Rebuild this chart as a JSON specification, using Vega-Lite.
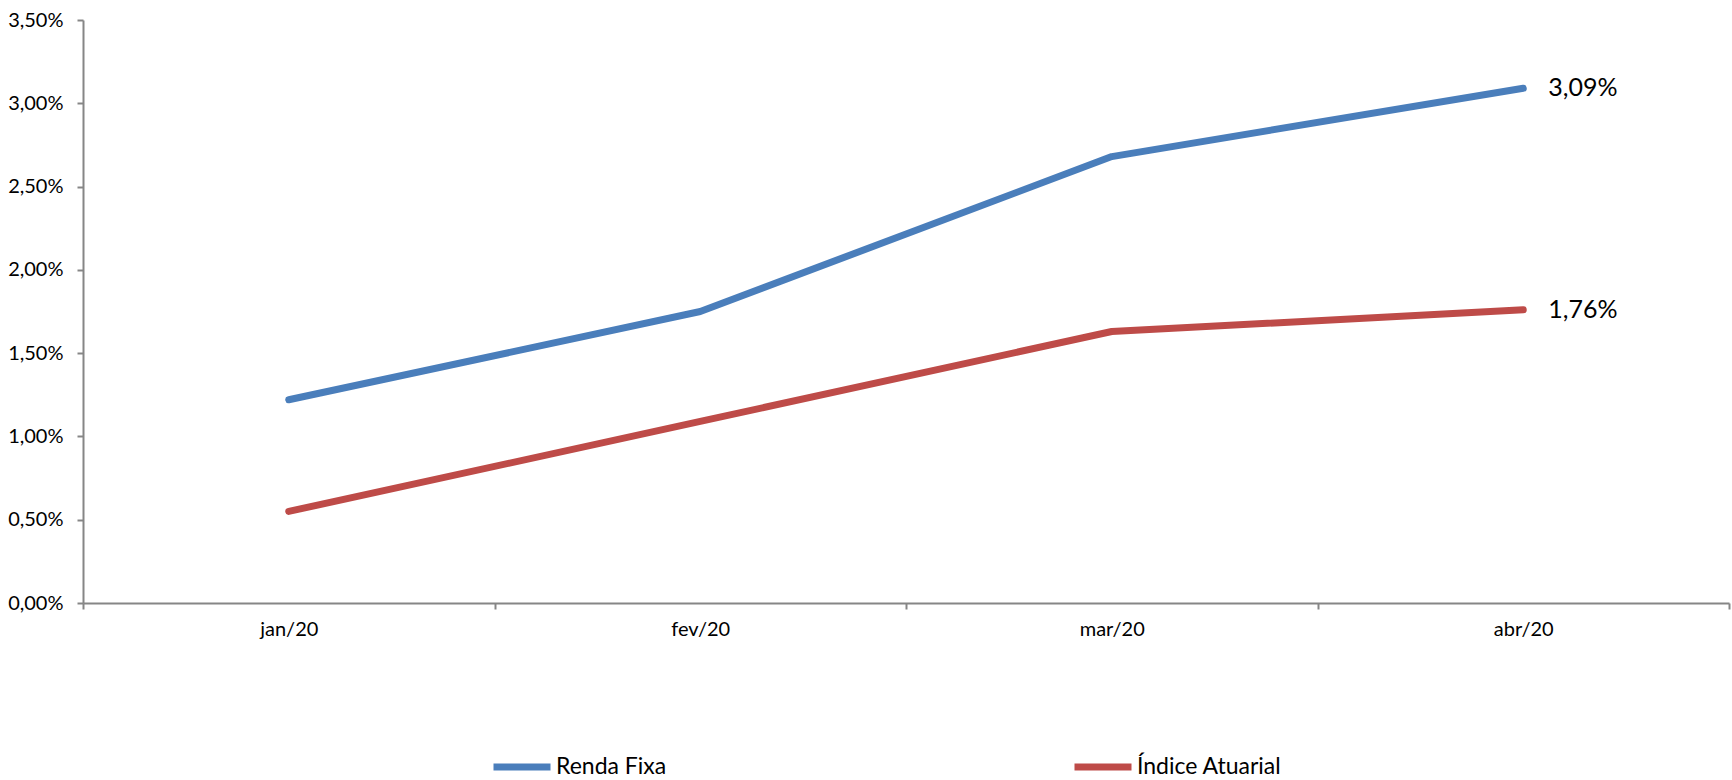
{
  "$schema": "https://vega.github.io/schema/vega-lite/v6.json",
  "autosize": "none",
  "width": 1646,
  "height": 583,
  "padding": {"left": 83, "top": 20, "right": 3, "bottom": 177},
  "background": "white",
  "config": {
    "view": {"stroke": null},
    "font": "Lato",
    "locale": {"number": {"decimal": ",", "thousands": ".", "grouping": [3], "currency": ["R$", ""]}}
  },
  "data": {
    "values": [
      {"mes": "jan/20", "serie": "Renda Fixa", "valor": 0.0122},
      {"mes": "fev/20", "serie": "Renda Fixa", "valor": 0.0175},
      {"mes": "mar/20", "serie": "Renda Fixa", "valor": 0.0268},
      {"mes": "abr/20", "serie": "Renda Fixa", "valor": 0.0309},
      {"mes": "jan/20", "serie": "Índice Atuarial", "valor": 0.0055},
      {"mes": "fev/20", "serie": "Índice Atuarial", "valor": 0.0109},
      {"mes": "mar/20", "serie": "Índice Atuarial", "valor": 0.0163},
      {"mes": "abr/20", "serie": "Índice Atuarial", "valor": 0.0176}
    ]
  },
  "encoding": {
    "x": {
      "field": "mes",
      "type": "nominal",
      "sort": ["jan/20", "fev/20", "mar/20", "abr/20"],
      "scale": {"type": "band", "paddingInner": 0, "paddingOuter": 0},
      "axis": {
        "title": null,
        "labelAngle": 0,
        "tickBand": "extent",
        "domainColor": "#868686",
        "domainWidth": 2,
        "tickColor": "#868686",
        "tickWidth": 2,
        "tickSize": 6,
        "labelFontSize": 20,
        "labelColor": "#000000",
        "labelPadding": 10,
        "grid": false
      }
    },
    "y": {
      "field": "valor",
      "type": "quantitative",
      "scale": {"domain": [0, 0.035], "nice": false},
      "axis": {
        "title": null,
        "values": [0, 0.005, 0.01, 0.015, 0.02, 0.025, 0.03, 0.035],
        "format": ".2%",
        "grid": false,
        "domainColor": "#868686",
        "domainWidth": 2,
        "tickColor": "#868686",
        "tickWidth": 2,
        "tickSize": 6,
        "labelFontSize": 20,
        "labelColor": "#000000",
        "labelPadding": 14
      }
    },
    "color": {
      "field": "serie",
      "type": "nominal",
      "scale": {"domain": ["Renda Fixa", "Índice Atuarial"], "range": ["#4A7EBB", "#BE4B48"]},
      "legend": {
        "title": null,
        "orient": "none",
        "direction": "horizontal",
        "legendX": 407,
        "legendY": 715,
        "symbolType": "stroke",
        "symbolSize": 3249,
        "symbolStrokeWidth": 7,
        "labelFontSize": 23,
        "labelColor": "#000000",
        "labelOffset": 2,
        "columnPadding": 393
      }
    }
  },
  "layer": [
    {
      "mark": {"type": "line", "strokeWidth": 7, "strokeCap": "round", "strokeJoin": "round"}
    },
    {
      "transform": [{"filter": "datum.mes === 'abr/20'"}],
      "mark": {"type": "text", "align": "left", "baseline": "middle", "dx": 25, "fontSize": 25, "color": "#000000"},
      "encoding": {
        "text": {"field": "valor", "type": "quantitative", "format": ".2%"},
        "color": {"value": "#000000"}
      }
    }
  ]
}
